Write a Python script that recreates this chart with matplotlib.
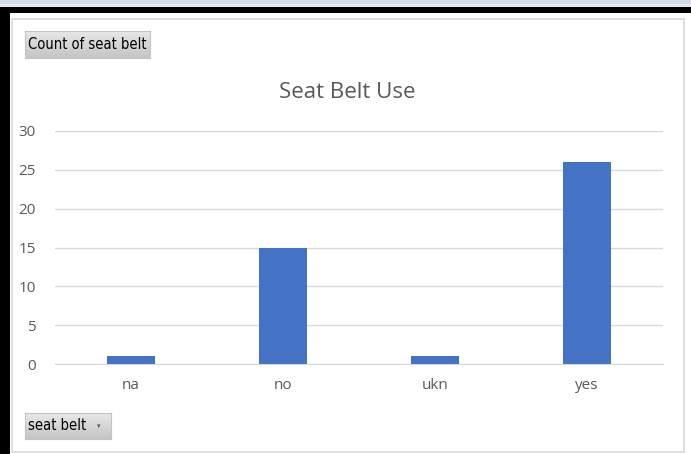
import matplotlib
matplotlib.use("Agg")
import matplotlib.pyplot as plt
import numpy as np
from matplotlib.patches import Rectangle

categories = ["na", "no", "ukn", "yes"]
counts = [1, 15, 1, 26]
yticks = [0, 5, 10, 15, 20, 25, 30]

W, H = 691, 454
fig = plt.figure(figsize=(W/100, H/100), dpi=100)
fig.patch.set_facecolor("white")

def rect(x0, y0, x1, y1, **kw):
    # pixel coords from top-left
    fig.patches.append(Rectangle((x0/W, 1 - y1/H), (x1-x0)/W, (y1-y0)/H,
                                 transform=fig.transFigure, figure=fig, zorder=-5, **kw))

def button(x0, y0, x1, y1):
    bax = fig.add_axes([x0/W, 1 - y1/H, (x1-x0)/W, (y1-y0)/H])
    bax.set_zorder(3)
    g = np.linspace(0.91, 0.77, 64).reshape(-1, 1)
    bax.imshow(np.dstack([g, g, g]), aspect="auto", extent=[0, 1, 0, 1])
    bax.set_xticks([]); bax.set_yticks([])
    for s in bax.spines.values():
        s.set_color("#c4c4c4"); s.set_linewidth(0.8)

# window decorations
rect(0, 0, W, 4, facecolor="#cfdeea", edgecolor="none")
rect(0, 4, W, 7, facecolor="#e8e8e8", edgecolor="none")
rect(0, 7, W, 13, facecolor="black", edgecolor="none")
rect(0, 7, 10, H, facecolor="black", edgecolor="none")
rect(11.5, 18.5, 683.5, 451.5, facecolor="white", edgecolor="#d9d9d9", linewidth=1.2)

# field buttons
button(25, 31, 150, 58)
fig.text(28/W, 1 - 44.5/H, "Count of seat belt", fontsize=10.5, color="black",
         va="center", ha="left", family="DejaVu Sans", fontstretch="condensed", zorder=10)
button(25, 413, 111, 439)
fig.text(28/W, 1 - 426/H, "seat belt", fontsize=10.5, color="black",
         va="center", ha="left", family="DejaVu Sans", fontstretch="condensed", zorder=10)
fig.text(99/W, 1 - 426/H, "\u25be", fontsize=5, color="#555555", va="center", ha="center", zorder=10)

# axes
x0, x1 = 55, 663
ytop, ybot = 131, 364
ax = fig.add_axes([x0/W, 1 - ybot/H, (x1-x0)/W, (ybot-ytop)/H])
ax.set_zorder(2)
ax.set_facecolor("none")
pos = list(range(len(categories)))
ax.bar(pos, counts, width=0.316, color="#4472c4", zorder=3)
ax.set_xlim(-0.5, len(categories) - 0.5)
ax.set_ylim(0, 30)
ax.set_yticks(yticks)
ax.set_xticks(pos)
ax.set_xticklabels(categories)
ax.grid(axis="y", color="#d9d9d9", linewidth=1, zorder=0)
for s in ["top", "right", "left"]:
    ax.spines[s].set_visible(False)
ax.spines["bottom"].set_color("#d9d9d9")
ax.tick_params(axis="both", length=0, colors="#595959", labelsize=11)
ax.tick_params(axis="y", pad=14)
ax.tick_params(axis="x", pad=10)
for lab in ax.get_xticklabels() + ax.get_yticklabels():
    lab.set_family("Open Sans")

fig.text(347/W, 1 - 92/H, "Seat Belt Use", fontsize=16, color="#595959",
         ha="center", va="center", family="Open Sans", zorder=5)

fig.savefig("out.png", dpi=100)
